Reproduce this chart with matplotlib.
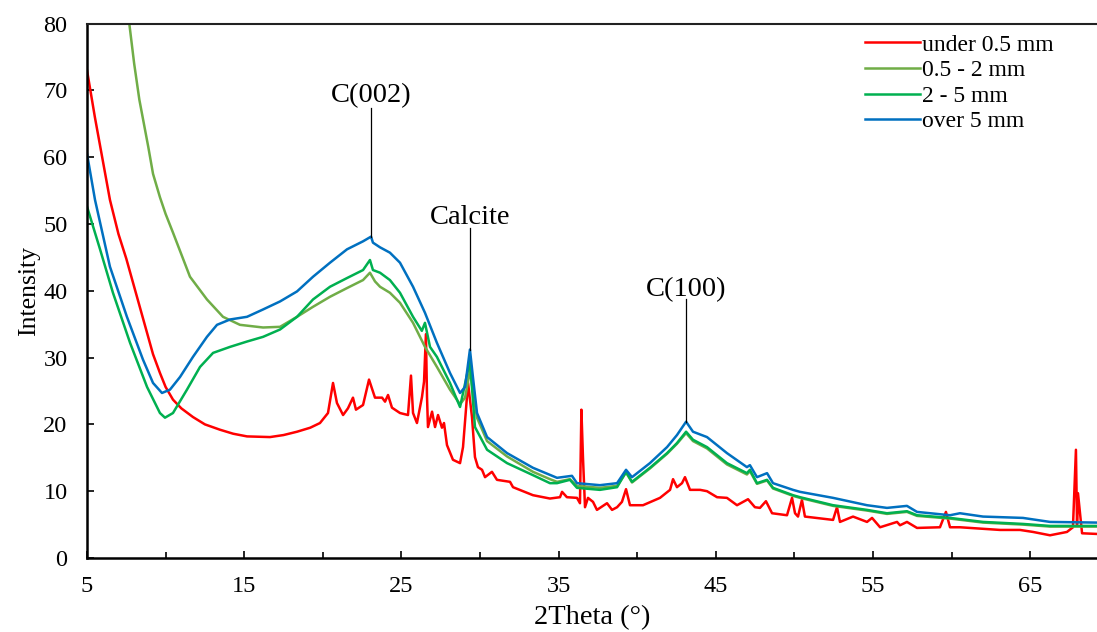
import matplotlib
matplotlib.use("Agg")
import matplotlib.pyplot as plt
from matplotlib.ticker import MultipleLocator

plt.rcParams['font.family'] = ['Liberation Serif', 'DejaVu Serif']

# ---- data ----
red_x = [5.0, 5.5, 6.0, 6.46, 7.0, 7.5, 7.93, 8.4, 8.82, 9.2, 9.64, 10.0, 10.47, 11.0, 11.74,
         12.5, 13.46, 14.3, 15.18, 16.64, 17.5, 18.36, 19.2, 19.82, 20.33, 20.65, 20.9, 21.29,
         21.6, 21.92, 22.11, 22.56, 22.94, 23.32, 23.77, 23.96, 24.15, 24.40, 24.91, 25.42,
         25.61, 25.74, 25.99, 26.31, 26.44, 26.56, 26.63, 26.69, 26.95, 27.14, 27.33, 27.58,
         27.71, 27.90, 28.28, 28.73, 28.92, 29.24, 29.49, 29.68, 29.87, 30.13, 30.32, 30.76,
         31.08, 31.91, 32.10, 33.37, 34.45, 35.09, 35.22, 35.53, 36.17, 36.36, 36.45, 36.55,
         36.68, 36.87, 37.19, 37.44, 37.63, 38.08, 38.40, 38.72, 39.03, 39.29, 39.54, 40.37,
         41.45, 42.09, 42.28, 42.53, 42.85, 43.04, 43.36, 44.0, 44.44, 45.08, 45.71, 46.35,
         47.05, 47.49, 47.81, 48.19, 48.58, 49.53, 49.85, 50.04, 50.23, 50.48, 50.67, 52.46,
         52.71, 52.90, 53.73, 54.62, 54.94, 55.45, 56.53, 56.72, 57.16, 57.80, 59.26, 59.64,
         59.90, 60.53, 63.08, 64.35, 65.18, 66.26, 67.34, 67.72, 67.91, 67.98, 68.04, 68.30, 69.25]
red_y = [73.0, 66.0, 59.5, 53.6, 48.5, 44.8, 41.2, 37.3, 33.7, 30.5, 27.7, 25.6, 23.7, 22.4, 21.1,
         20.0, 19.2, 18.6, 18.2, 18.1, 18.4, 18.9, 19.5, 20.2, 21.7, 26.2, 23.2, 21.4,
         22.4, 24.0, 22.2, 22.9, 26.7, 24.0, 24.0, 23.4, 24.4, 22.5, 21.7, 21.4,
         27.3, 21.7, 20.2, 24.1, 26.4, 33.5, 24.1, 19.6, 21.9, 19.6, 21.4, 19.5,
         20.2, 16.9, 14.7, 14.2, 16.6, 26.2, 21.1, 15.1, 13.6, 13.2, 12.1, 12.9,
         11.7, 11.4, 10.6, 9.4, 8.9, 9.1, 9.9, 9.1, 9.0, 8.2, 22.2, 15.1,
         7.6, 9.0, 8.4, 7.2, 7.5, 8.2, 7.2, 7.6, 8.4, 10.3, 7.9, 7.9,
         9.0, 10.2, 11.8, 10.6, 11.2, 12.1, 10.2, 10.2, 10.0, 9.1, 9.0, 7.9,
         8.8, 7.6, 7.5, 8.5, 6.7, 6.4, 9.0, 6.7, 6.2, 8.7, 6.2, 5.7,
         7.6, 5.4, 6.2, 5.4, 6.0, 4.6, 5.4, 4.9, 5.4, 4.5, 4.6, 6.9,
         4.6, 4.6, 4.2, 4.2, 3.9, 3.4, 3.9, 4.6, 16.2, 5.0, 9.7, 3.7, 3.6]

olive_x = [7.55, 7.69, 8.0, 8.33, 8.9, 9.2, 9.64, 10.0, 10.47, 11.55, 12.63, 13.65, 14.73, 16.2,
           17.28, 18.36, 19.38, 20.46, 21.54, 22.56, 23.0, 23.32, 23.64, 24.27, 24.91, 25.74,
           26.5, 27.26, 28.09, 28.73, 29.05, 29.36, 29.55, 29.81, 30.45, 31.72, 33.37, 34.45,
           34.9, 35.72, 36.17, 37.63, 38.72, 39.29, 39.67, 40.81, 41.9, 42.53, 43.11, 43.55,
           44.44, 45.71, 46.98, 47.17, 47.62, 48.26, 48.64, 49.91, 50.36, 52.46, 54.62, 55.89,
           57.16, 57.80, 59.90, 62.0, 64.54, 66.26, 69.25]
olive_y = [82.5, 80.0, 74.0, 68.6, 61.5, 57.5, 54.0, 51.5, 48.7, 42.1, 38.7, 36.1, 34.9, 34.5,
           34.6, 36.1, 37.6, 39.1, 40.4, 41.6, 42.7, 41.4, 40.6, 39.7, 38.2, 35.2,
           31.6, 28.6, 25.2, 23.0, 24.0, 28.0, 25.0, 21.0, 17.5, 15.2, 12.9, 11.8,
           11.4, 11.8, 10.8, 10.5, 10.8, 12.8, 11.3, 13.4, 15.6, 17.1, 18.7, 17.5,
           16.4, 14.0, 12.5, 13.0, 11.1, 11.6, 10.4, 9.3, 9.0, 7.8, 7.1, 6.6,
           6.9, 6.3, 5.9, 5.3, 5.0, 4.7, 4.7]

green_x = [5.0, 5.83, 6.65, 7.74, 8.82, 9.64, 9.96, 10.47, 11.36, 12.19, 13.02, 14.10, 15.18,
           16.2, 17.28, 18.36, 19.38, 20.46, 21.54, 22.56, 23.0, 23.19, 23.64, 24.27, 24.91,
           25.74, 26.3, 26.5, 26.82, 27.26, 28.09, 28.73, 29.36, 29.68, 30.45, 31.72, 33.37,
           34.45, 34.9, 35.72, 36.17, 37.63, 38.72, 39.29, 39.67, 40.81, 41.9, 42.53, 43.11,
           43.55, 44.44, 45.71, 46.98, 47.17, 47.62, 48.26, 48.64, 49.91, 50.36, 52.46, 54.62,
           55.89, 57.16, 57.80, 59.90, 62.0, 64.54, 66.26, 69.25]
green_y = [52.6, 46.2, 39.7, 32.2, 25.6, 21.7, 21.0, 21.7, 25.2, 28.6, 30.7, 31.6, 32.4,
           33.1, 34.2, 36.1, 38.7, 40.6, 41.9, 43.1, 44.6, 43.1, 42.7, 41.6, 39.7,
           36.1, 34.0, 35.2, 31.6, 30.1, 26.2, 22.6, 29.5, 19.6, 16.2, 14.2, 12.4,
           11.2, 11.2, 11.7, 10.5, 10.2, 10.6, 12.9, 11.4, 13.5, 15.7, 17.2, 18.9,
           17.7, 16.6, 14.2, 12.7, 13.2, 11.2, 11.7, 10.5, 9.4, 9.1, 7.9, 7.2,
           6.7, 7.0, 6.4, 6.0, 5.4, 5.1, 4.8, 4.8]

blue_x = [5.0, 5.51, 6.46, 7.54, 8.56, 9.2, 9.77, 10.28, 10.92, 11.74, 12.63, 13.27, 14.10,
          15.18, 16.2, 17.28, 18.36, 19.38, 20.46, 21.54, 22.56, 23.07, 23.19, 23.64, 24.27,
          24.91, 25.74, 26.50, 27.26, 28.09, 28.73, 29.05, 29.36, 29.55, 29.81, 30.45, 31.72,
          33.37, 34.9, 35.85, 36.17, 37.63, 38.72, 39.29, 39.67, 40.81, 41.9, 42.53, 43.11,
          43.55, 44.44, 45.71, 46.98, 47.17, 47.62, 48.26, 48.64, 49.91, 50.36, 52.46, 54.62,
          55.89, 57.16, 57.80, 59.90, 60.53, 62.0, 64.54, 66.26, 69.25]
blue_y = [60.5, 53.6, 43.6, 36.1, 29.7, 26.2, 24.7, 25.2, 27.1, 30.1, 33.1, 34.9, 35.7,
          36.1, 37.2, 38.4, 39.9, 42.1, 44.2, 46.2, 47.4, 48.1, 47.2, 46.5, 45.7,
          44.2, 40.6, 36.7, 32.2, 27.7, 24.7, 25.6, 31.2, 27.1, 21.7, 18.1, 15.7,
          13.5, 12.0, 12.3, 11.2, 10.9, 11.2, 13.2, 12.1, 14.2, 16.6, 18.4, 20.4,
          18.9, 18.1, 15.7, 13.6, 13.9, 12.1, 12.7, 11.2, 10.2, 9.9, 9.0, 7.9,
          7.5, 7.8, 6.9, 6.4, 6.7, 6.2, 6.0, 5.4, 5.3]

series_labels = ["under 0.5 mm", "0.5 - 2 mm", "2 - 5 mm", "over 5 mm"]
series_colors = ["#FF0000", "#70AD47", "#00B050", "#0070C0"]

x_ticks = [5, 15, 25, 35, 45, 55, 65]
y_ticks = [0, 10, 20, 30, 40, 50, 60, 70, 80]

# label, x, line bottom, line top, text baseline
annotations = [("C(002)", 23.07, 48.1, 67.4, 68.2),
               ("Calcite", 29.36, 31.2, 49.4, 50.0),
               ("C(100)", 43.11, 20.4, 38.7, 39.2)]

# ---- figure ----
fig = plt.figure(figsize=(10.97, 6.32), dpi=100)
ax = fig.add_axes([87 / 1097, 74 / 632, 1 - 87 / 1097, (558 - 23.5) / 632])

xs = [red_x, olive_x, green_x, blue_x]
ys = [red_y, olive_y, green_y, blue_y]
for x, y, lab, col in zip(xs, ys, series_labels, series_colors):
    ax.plot(x, y, color=col, lw=1.8, label=lab, solid_joinstyle='round')

for txt, xv, y0, y1, yt in annotations:
    ax.plot([xv, xv], [y0, y1], color='black', lw=0.9)
    ax.text(xv, yt, txt, ha='center', va='baseline', fontsize=20.5)

ax.set_xlim(5, 69.25)
ax.set_ylim(0, 80)
ax.set_xticks(x_ticks)
ax.xaxis.set_minor_locator(MultipleLocator(5))
ax.set_yticks(y_ticks)
ax.tick_params(axis='both', which='both', direction='in', labelsize=17.5, width=1.2)
ax.tick_params(axis='x', which='major', length=5, pad=13)
ax.tick_params(axis='x', which='minor', length=4)
ax.tick_params(axis='y', which='major', length=5, pad=14)

ax.spines['right'].set_visible(False)
ax.spines['left'].set_linewidth(1.8)
ax.spines['bottom'].set_linewidth(1.8)
ax.spines['top'].set_linewidth(1.5)
ax.spines['top'].set_color('#222222')

ax.set_xlabel("2Theta (°)", fontsize=20.5, labelpad=6)
ax.set_ylabel("Intensity", fontsize=18.5, labelpad=2)

leg = ax.legend(loc='upper left', bbox_to_anchor=(0.7705, 0.98), frameon=False,
                fontsize=17, handlelength=2.3, handletextpad=0.1, labelspacing=0.17,
                borderaxespad=0, borderpad=0)

fig.savefig("out.png", dpi=100)
